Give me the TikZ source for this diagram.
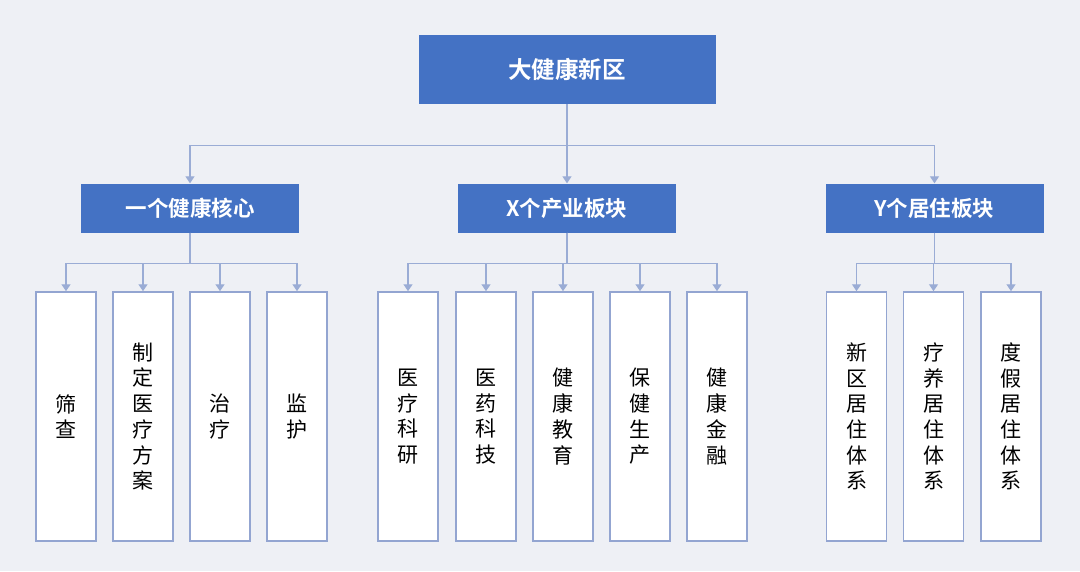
\documentclass[tikz,border=0pt]{standalone}
\usepackage{fontspec}
\usepackage{xcolor}
\usepackage{tikz}
\usetikzlibrary{arrows.meta, positioning, calc}
\newfontfamily\cjk[BoldFont={Noto Sans CJK SC Bold}]{Noto Sans CJK SC}
\definecolor{bgcol}{HTML}{EEF0F5}
\definecolor{headblue}{HTML}{4472C4}
\definecolor{linkcol}{HTML}{9AACD5}
\definecolor{edgecol}{HTML}{93A5D1}
\tikzstyle{topbox} = [minimum width=297pt, minimum height=69pt, fill=headblue, text=white, font=\cjk\bfseries\fontsize{23.5}{28}\selectfont, inner sep=0pt]
\tikzstyle{groupbox} = [minimum width=218pt, minimum height=49pt, fill=headblue, text=white, font=\cjk\bfseries\fontsize{21.5}{25}\selectfont, inner sep=0pt]
\tikzstyle{itembox} = [draw=edgecol, line width=1.5pt, fill=white, minimum width=60pt, minimum height=249pt, align=center, font=\cjk\fontsize{21}{25.7}\selectfont, inner sep=0pt]
\tikzstyle{arrow} = [draw=linkcol, line width=1.3pt, -{Triangle[width=9pt,length=7pt]}]

\begin{document}
\begin{tikzpicture}[x=1pt, y=-1pt]
    % Background
    \fill[bgcol] (0,0) rectangle (1080,571);
    \useasboundingbox (0,0) rectangle (1080,571);

    % Root
    \node[topbox] (root) at (567,69.5) {大健康新区};

    % Second level
    \node[groupbox] (core) at (190,208) {一个健康核心};
    \node[groupbox] (industry) at (567,208) {X个产业板块};
    \node[groupbox] (living) at (934.5,208) {Y个居住板块};

    \draw[arrow] (root.south) -- ++(0,41) -| (core.north);
    \draw[arrow] (root.south) -- (industry.north);
    \draw[arrow] (root.south) -- ++(0,41) -| (living.north);

    % Health core items
    \node[itembox] (screen) at (66,416.5) {筛\\查};
    \node[itembox] (plan) at (143,416.5) {制\\定\\医\\疗\\方\\案};
    \node[itembox] (treat) at (220,416.5) {治\\疗};
    \node[itembox] (monitor) at (297,416.5) {监\\护};

    \draw[arrow] (core.south) -- ++(0,31) -| (screen.north);
    \draw[arrow] (core.south) -- ++(0,31) -| (plan.north);
    \draw[arrow] (core.south) -- ++(0,31) -| (treat.north);
    \draw[arrow] (core.south) -- ++(0,31) -| (monitor.north);

    % Industry items
    \node[itembox] (medres) at (408,416.5) {医\\疗\\科\\研};
    \node[itembox] (pharma) at (486,416.5) {医\\药\\科\\技};
    \node[itembox] (edu) at (563,416.5) {健\\康\\教\\育};
    \node[itembox] (care) at (640,416.5) {保\\健\\生\\产};
    \node[itembox] (finance) at (717,416.5) {健\\康\\金\\融};

    \draw[arrow] (industry.south) -- ++(0,31) -| (medres.north);
    \draw[arrow] (industry.south) -- ++(0,31) -| (pharma.north);
    \draw[arrow] (industry.south) -- ++(0,31) -| (edu.north);
    \draw[arrow] (industry.south) -- ++(0,31) -| (care.north);
    \draw[arrow] (industry.south) -- ++(0,31) -| (finance.north);

    % Living items
    \node[itembox] (newzone) at (856.5,416.5) {新\\区\\居\\住\\体\\系};
    \node[itembox] (rehab) at (933.5,416.5) {疗\\养\\居\\住\\体\\系};
    \node[itembox] (resort) at (1011,416.5) {度\\假\\居\\住\\体\\系};

    \draw[arrow] (living.south) -- ++(0,31) -| (newzone.north);
    \draw[arrow] (living.south) -- ++(0,31) -| (rehab.north);
    \draw[arrow] (living.south) -- ++(0,31) -| (resort.north);
\end{tikzpicture}
\end{document}
